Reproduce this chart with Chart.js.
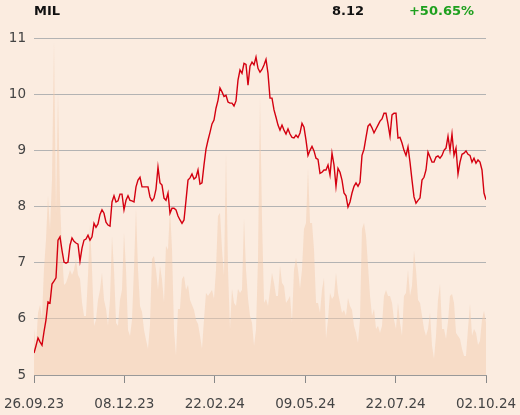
<!DOCTYPE html>
<html>
<head>
<meta charset="utf-8">
<script src="https://cdn.jsdelivr.net/npm/chart.js@4.4.0/dist/chart.umd.min.js"></script>
<style>
  body { margin: 0; background: #fbece0; }
  #wrap { position: relative; width: 520px; height: 415px; }
  .hd { position: absolute; top: 3px; font: bold 13px "DejaVu Sans", sans-serif; line-height: 15px; color: #111; }
</style>
</head>
<body>
<div id="wrap">
  <canvas id="chart" width="520" height="415"></canvas>
  <div class="hd" id="ticker" style="left:34px"></div>
  <div class="hd" id="last" style="right:156px"></div>
  <div class="hd" id="change" style="right:46px; color:#1ea01e"></div>
</div>
<script>
const ticker = "MIL";
const lastPrice = "8.12";
const change = "+50.65%";
const tickLabels = ["26.09.23", "08.12.23", "22.02.24", "09.05.24", "22.07.24", "02.10.24"];
const yTicks = [5, 6, 7, 8, 9, 10, 11];

// closing price, one value every ~2 sessions
const prices = [
  5.39,5.52,5.66,5.59,5.53,5.77,5.98,6.30,6.28,6.62,
  6.67,6.73,7.40,7.46,7.22,7.01,6.99,7.01,7.31,7.44,
  7.38,7.35,7.33,7.03,7.26,7.40,7.42,7.49,7.40,7.46,
  7.70,7.63,7.69,7.86,7.94,7.88,7.72,7.67,7.65,8.08,
  8.19,8.08,8.10,8.22,8.22,7.94,8.11,8.19,8.11,8.10,
  8.08,8.35,8.47,8.52,8.35,8.35,8.35,8.35,8.17,8.10,
  8.15,8.31,8.70,8.42,8.38,8.15,8.11,8.24,7.88,7.97,
  7.97,7.94,7.83,7.76,7.70,7.76,8.11,8.47,8.51,8.58,
  8.49,8.52,8.65,8.40,8.42,8.74,9.02,9.18,9.32,9.47,
  9.54,9.75,9.89,10.11,10.04,9.96,9.98,9.86,9.84,9.84,
  9.79,9.88,10.25,10.43,10.37,10.55,10.53,10.16,10.50,10.57,
  10.52,10.66,10.46,10.39,10.44,10.52,10.62,10.37,9.93,9.93,
  9.72,9.59,9.45,9.36,9.45,9.36,9.29,9.38,9.29,9.23,
  9.22,9.27,9.23,9.31,9.48,9.41,9.18,8.91,9.00,9.07,
  8.99,8.86,8.84,8.59,8.61,8.65,8.65,8.74,8.56,8.95,
  8.74,8.36,8.68,8.61,8.47,8.24,8.19,7.99,8.08,8.24,
  8.36,8.42,8.36,8.43,8.91,9.02,9.23,9.43,9.47,9.40,
  9.31,9.38,9.45,9.52,9.56,9.66,9.66,9.47,9.25,9.63,
  9.66,9.66,9.22,9.23,9.13,9.00,8.91,9.06,8.79,8.47,
  8.17,8.06,8.11,8.15,8.47,8.52,8.65,8.97,8.88,8.79,
  8.79,8.88,8.90,8.86,8.91,9.00,9.04,9.25,9.00,9.29,
  8.91,9.04,8.58,8.79,8.93,8.95,8.99,8.93,8.91,8.79,
  8.86,8.77,8.83,8.79,8.65,8.24,8.12
];

// traded volume (arbitrary units), same sessions as prices
const volume = [
  46,26,62,70,57,106,135,179,145,195,
  332,160,282,175,122,90,92,98,105,100,
  105,116,100,96,72,59,59,99,150,105,
  49,55,75,85,102,75,66,49,75,139,
  105,52,49,75,85,142,105,45,39,55,
  106,166,105,69,63,45,35,26,50,116,
  119,105,85,109,95,72,129,125,166,125,
  45,19,66,66,96,99,85,90,75,70,
  65,55,51,39,26,55,82,79,82,85,
  76,105,159,162,125,99,222,105,45,86,
  72,69,86,82,85,156,105,76,59,52,
  29,45,115,277,155,72,76,69,85,102,
  92,79,79,109,92,89,72,75,79,52,
  105,117,105,86,105,146,152,206,152,152,
  125,72,72,62,85,97,36,55,82,76,
  79,102,82,72,62,65,59,77,69,65,
  49,42,32,55,146,152,139,109,79,59,
  66,46,49,42,49,79,85,79,79,72,
  55,46,72,52,39,79,82,105,79,89,
  124,105,75,72,59,46,39,46,62,29,
  16,39,75,91,46,46,36,53,79,81,
  72,42,39,36,26,19,19,46,71,39,
  46,42,30,34,55,64,52
];

document.getElementById("ticker").textContent = ticker;
document.getElementById("last").textContent = lastPrice;
document.getElementById("change").textContent = change;

const N = prices.length;
const font = { family: "DejaVu Sans", size: 13.5 };

new Chart(document.getElementById("chart"), {
  type: 'line',
  data: {
    datasets: [
      {
        data: prices.map((p, i) => ({ x: i, y: p })),
        yAxisID: 'y',
        borderColor: '#d40010',
        borderWidth: 1.4,
        pointRadius: 0,
        tension: 0,
        fill: false
      },
      {
        data: volume.map((v, i) => ({ x: i, y: v })),
        yAxisID: 'yv',
        borderWidth: 0,
        pointRadius: 0,
        tension: 0,
        fill: 'origin',
        backgroundColor: 'rgba(243,204,174,0.5)'
      }
    ]
  },
  options: {
    responsive: false,
    animation: false,
    layout: { padding: { top: 38, right: 34, left: 0, bottom: 0 } },
    plugins: { legend: { display: false }, tooltip: { enabled: false } },
    scales: {
      x: {
        type: 'linear',
        min: 0,
        max: N - 1,
        afterBuildTicks: s => {
          s.ticks = tickLabels.map((_, i) => ({ value: i * (N - 1) / (tickLabels.length - 1) }));
        },
        afterFit: s => {
          s.height = 40;
          s.paddingLeft = 0;
          s.paddingRight = 0;
        },
        ticks: {
          callback: (v, i) => tickLabels[i],
          color: '#444',
          font: font,
          padding: 13,
          maxRotation: 0,
          autoSkip: false
        },
        grid: { drawOnChartArea: false, color: '#888', tickLength: 8 },
        border: { color: '#999' }
      },
      y: {
        min: yTicks[0],
        max: yTicks[yTicks.length - 1],
        afterBuildTicks: s => { s.ticks = yTicks.map(v => ({ value: v })); },
        afterFit: s => { s.width = 34; },
        ticks: { color: '#444', font: font, padding: 8 },
        grid: { color: '#b3b3b3', drawTicks: false },
        border: { display: false }
      },
      yv: { display: false, min: 0, max: 337 }
    }
  }
});
</script>
</body>
</html>
